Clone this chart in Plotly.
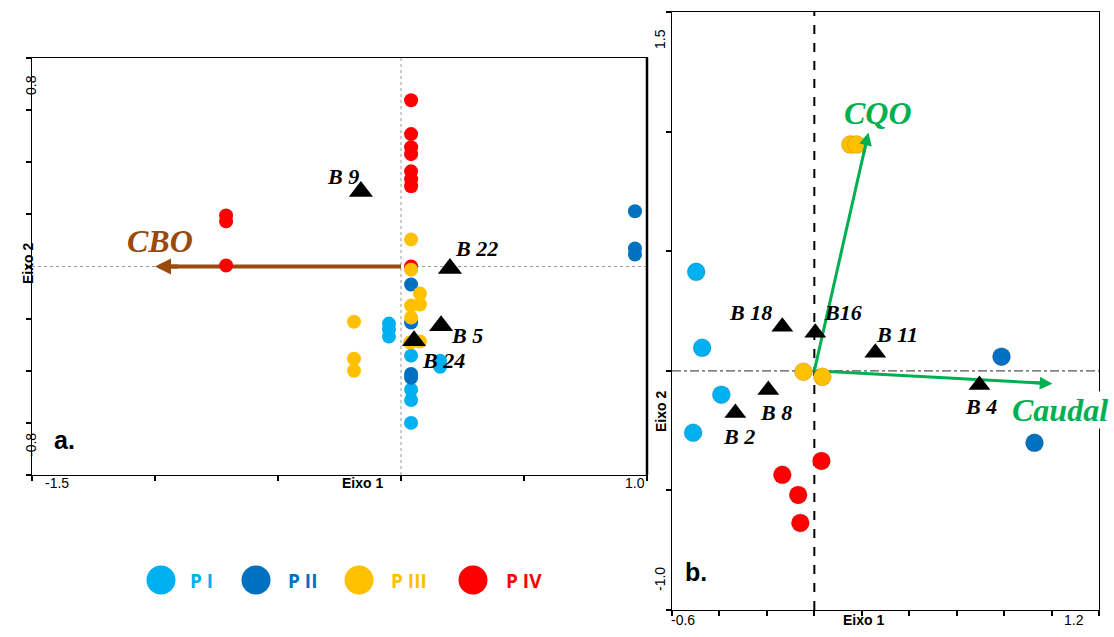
import plotly.graph_objects as go

# ---------------- DATA ----------------
groups = ["P I", "P II", "P III", "P IV"]
group_colors = ["#00B0F0", "#0070C0", "#FFC000", "#FF0000"]

# Panel a. (Eixo 1 / Eixo 2)
a_PI_x = [-0.049, -0.049, -0.049, 0.041, 0.159, 0.159, 0.041, 0.041, 0.041]
a_PI_y = [-0.219, -0.242, -0.269, -0.342, -0.362, -0.385, -0.473, -0.512, -0.600]
a_PII_x = [0.951, 0.951, 0.951, 0.041, 0.041, 0.041, 0.041]
a_PII_y = [0.212, 0.069, 0.046, -0.069, -0.215, -0.412, -0.427]
a_PIII_x = [0.041, 0.041, 0.077, 0.077, 0.041, 0.041, 0.077, 0.037, -0.191, -0.191, -0.191]
a_PIII_y = [0.104, -0.012, -0.104, -0.146, -0.150, -0.196, -0.288, -0.292, -0.212, -0.354, -0.400]
a_PIV_x = [0.041, 0.041, 0.041, 0.041, 0.041, 0.041, 0.041, -0.711, -0.711, -0.711, 0.041]
a_PIV_y = [0.638, 0.508, 0.458, 0.431, 0.365, 0.335, 0.308, 0.196, 0.173, 0.004, 0.0]
a_species = ["B 9", "B 22", "B 5", "B 24"]
a_species_x = [-0.163, 0.199, 0.163, 0.053]
a_species_y = [0.288, -0.008, -0.227, -0.285]
a_vector_name = ["CBO"]
a_vector_x = [-1.0]
a_vector_y = [0.0]

# Panel b.
b_PI_x = [-0.498, -0.473, -0.392, -0.511]
b_PI_y = [0.414, 0.096, -0.100, -0.259]
b_PII_x = [0.789, 0.928]
b_PII_y = [0.059, -0.301]
b_PIII_x = [-0.046, 0.034, 0.152, 0.178]
b_PIII_y = [-0.004, -0.025, 0.946, 0.946]
b_PIV_x = [0.030, -0.135, -0.068, -0.059]
b_PIV_y = [-0.377, -0.435, -0.519, -0.636]
b_species = ["B 18", "B16", "B 11", "B 8", "B 2", "B 4"]
b_species_x = [-0.135, 0.004, 0.257, -0.194, -0.333, 0.696]
b_species_y = [0.184, 0.159, 0.075, -0.080, -0.176, -0.059]
b_vector_name = ["CQO", "Caudal"]
b_vector_x = [0.228, 1.004]
b_vector_y = [0.996, -0.054]

# ---------------- STYLE ----------------
W, H = 1114, 637
brown = "#994A0C"
green = "#00B050"
serif = "Liberation Serif"
sans = "Liberation Sans"

def px2fx(px):
    return px / W

def px2fy(py):
    return 1 - py / H

fig = go.Figure()

shapes = [
    dict(type="line", xref="x", yref="y domain", x0=0, x1=0, y0=0, y1=1,
         line=dict(color="#999999", width=1, dash="dot"), layer="below"),
    dict(type="line", xref="x domain", yref="y", x0=0, x1=1, y0=0, y1=0,
         line=dict(color="#999999", width=1, dash="dot"), layer="below"),
    dict(type="line", xref="x2", yref="y2 domain", x0=0, x1=0, y0=0, y1=1,
         line=dict(color="black", width=2, dash="dash"), layer="below"),
    dict(type="line", xref="x2 domain", yref="y2", x0=0, x1=1, y0=0, y1=0,
         line=dict(color="#555555", width=1.2, dash="dashdot"), layer="below"),
    dict(type="line", xref="x domain", yref="y domain", x0=1, x1=1, y0=0, y1=1,
         line=dict(color="black", width=2.5)),
]

annotations = []

# Panel a vector (CBO): shaft as trace, head as annotation
fig.add_trace(go.Scatter(
    x=[0, a_vector_x[0] * 0.97], y=[0, a_vector_y[0] * 0.97], xaxis="x", yaxis="y",
    mode="lines", line=dict(color=brown, width=4),
    showlegend=False, hoverinfo="skip"))
annotations.append(dict(x=a_vector_x[0], y=a_vector_y[0], ax=a_vector_x[0] * 0.9, ay=a_vector_y[0] * 0.9,
                        xref="x", yref="y", axref="x", ayref="y", text="", showarrow=True,
                        arrowhead=2, arrowsize=0.8, arrowwidth=4, arrowcolor=brown,
                        standoff=0, startstandoff=0))

a_sets = [(a_PIV_x, a_PIV_y, 3), (a_PI_x, a_PI_y, 0), (a_PII_x, a_PII_y, 1), (a_PIII_x, a_PIII_y, 2)]
for xs, ys, gi in a_sets:
    fig.add_trace(go.Scatter(x=xs, y=ys, xaxis="x", yaxis="y", mode="markers",
                             marker=dict(size=14, color=group_colors[gi]),
                             name=groups[gi], showlegend=False))

fig.add_trace(go.Scatter(x=a_species_x, y=a_species_y, xaxis="x", yaxis="y",
                         mode="markers", marker=dict(symbol="triangle-up", size=21, color="black"),
                         showlegend=False))

# Panel b vectors
for vx, vy in zip(b_vector_x, b_vector_y):
    fig.add_trace(go.Scatter(
        x=[0, vx * 0.97], y=[0, vy * 0.97], xaxis="x2", yaxis="y2",
        mode="lines", line=dict(color=green, width=3),
        showlegend=False, hoverinfo="skip"))
    annotations.append(dict(x=vx, y=vy, ax=vx * 0.9, ay=vy * 0.9,
                            xref="x2", yref="y2", axref="x2", ayref="y2", text="", showarrow=True,
                            arrowhead=2, arrowsize=0.85, arrowwidth=3, arrowcolor=green,
                            standoff=0, startstandoff=0))

b_sets = [(b_PI_x, b_PI_y, 0), (b_PII_x, b_PII_y, 1), (b_PIII_x, b_PIII_y, 2), (b_PIV_x, b_PIV_y, 3)]
for xs, ys, gi in b_sets:
    fig.add_trace(go.Scatter(x=xs, y=ys, xaxis="x2", yaxis="y2", mode="markers",
                             marker=dict(size=18, color=group_colors[gi],
                                         line=dict(color="rgba(0,0,0,0.25)", width=0.6)),
                             name=groups[gi], showlegend=False))

fig.add_trace(go.Scatter(x=b_species_x, y=b_species_y, xaxis="x2", yaxis="y2",
                         mode="markers", marker=dict(symbol="triangle-up", size=19, color="black"),
                         showlegend=False))

sp_font = dict(family=serif, size=22, color="black")
a_offsets = [(-18, 15), (27, 20), (26, -10), (29, -20)]
for name, x, y, (dx, dy) in zip(a_species, a_species_x, a_species_y, a_offsets):
    annotations.append(dict(x=x, y=y, xref="x", yref="y", text="<b><i>%s</i></b>" % name,
                            showarrow=False, xshift=dx, yshift=dy, font=sp_font))
b_offsets = [(-32, 14), (28, 20), (22, 18), (8, -23), (4, -24), (2, -22)]
for name, x, y, (dx, dy) in zip(b_species, b_species_x, b_species_y, b_offsets):
    annotations.append(dict(x=x, y=y, xref="x2", yref="y2", text="<b><i>%s</i></b>" % name,
                            showarrow=False, xshift=dx, yshift=dy, font=sp_font))

annotations.append(dict(x=a_vector_x[0], y=a_vector_y[0], xref="x", yref="y",
                        text="<b><i>%s</i></b>" % a_vector_name[0], showarrow=False,
                        xshift=5, yshift=26, font=dict(family=serif, size=32, color=brown)))
annotations.append(dict(x=b_vector_x[0], y=b_vector_y[0], xref="x2", yref="y2",
                        text="<b><i>%s</i></b>" % b_vector_name[0], showarrow=False,
                        xshift=10, yshift=20, font=dict(family=serif, size=32, color=green)))
annotations.append(dict(x=b_vector_x[1], y=b_vector_y[1], xref="x2", yref="y2",
                        text="<b><i>%s</i></b>" % b_vector_name[1], showarrow=False,
                        xshift=7, yshift=-26, bgcolor="white", borderpad=0,
                        font=dict(family=serif, size=32, color=green)))

annotations.append(dict(x=px2fx(52), y=px2fy(456), xref="paper", yref="paper", text="<b>a.</b>",
                        showarrow=False, font=dict(family=sans, size=25, color="black")))
annotations.append(dict(x=px2fx(696), y=px2fy(588), xref="paper", yref="paper", text="<b>b.</b>",
                        showarrow=False, font=dict(family=sans, size=25, color="black")))

tick_font = dict(family=sans, size=14, color="black")
lab_font = dict(family=sans, size=14, color="black")
annotations += [
    dict(x=px2fx(43), y=px2fy(493), xref="paper", yref="paper", text="-1.5", showarrow=False, font=tick_font),
    dict(x=px2fx(635), y=px2fy(493), xref="paper", yref="paper", text="1.0", showarrow=False, font=tick_font),
    dict(x=px2fx(340), y=px2fy(493), xref="paper", yref="paper", text="<b>Eixo 1</b>", showarrow=False, font=lab_font),
    dict(x=px2fx(21), y=px2fy(73), xref="paper", yref="paper", text="0.8", textangle=-90, showarrow=False, font=tick_font),
    dict(x=px2fx(21), y=px2fy(459), xref="paper", yref="paper", text="-0.8", textangle=-90, showarrow=False, font=tick_font),
    dict(x=px2fx(18), y=px2fy(264), xref="paper", yref="paper", text="<b>Eixo 2</b>", textangle=-90, showarrow=False, font=lab_font),
    dict(x=px2fx(683), y=px2fy(630), xref="paper", yref="paper", text="-0.6", showarrow=False, font=tick_font),
    dict(x=px2fx(1086), y=px2fy(630), xref="paper", yref="paper", text="1.2", showarrow=False, font=tick_font),
    dict(x=px2fx(886), y=px2fy(630), xref="paper", yref="paper", text="<b>Eixo 1</b>", showarrow=False, font=lab_font),
    dict(x=px2fx(660), y=px2fy(27), xref="paper", yref="paper", text="1.5", textangle=-90, showarrow=False, font=tick_font),
    dict(x=px2fx(660), y=px2fy(593), xref="paper", yref="paper", text="-1.0", textangle=-90, showarrow=False, font=tick_font),
    dict(x=px2fx(661), y=px2fy(412), xref="paper", yref="paper", text="<b>Eixo 2</b>", textangle=-90, showarrow=False, font=lab_font),
]

leg_cx = [161, 256, 359, 473]
leg_tx = [188, 286, 389, 504]
for gi in range(4):
    cx, cy, r = leg_cx[gi], 580, 14.5
    shapes.append(dict(type="circle", xref="paper", yref="paper",
                       x0=px2fx(cx - r), x1=px2fx(cx + r), y0=px2fy(cy + r), y1=px2fy(cy - r),
                       fillcolor=group_colors[gi], line=dict(width=0)))
    annotations.append(dict(x=px2fx(leg_tx[gi]), y=px2fy(581), xref="paper", yref="paper",
                            xanchor="left", yanchor="middle",
                            text="<b>%s</b>" % groups[gi].replace(" ", "&nbsp;"),
                            showarrow=False, font=dict(family="Open Sans", size=19, color=group_colors[gi])))

axis_common = dict(showgrid=False, zeroline=False, showline=True, linecolor="black",
                   linewidth=1.3, mirror=True, ticks="outside", ticklen=5, tickwidth=1.5,
                   tickcolor="black", showticklabels=False)

fig.update_layout(
    width=W, height=H, margin=dict(l=0, r=0, t=0, b=0),
    paper_bgcolor="white", plot_bgcolor="white",
    xaxis=dict(domain=[px2fx(32), px2fx(647)], range=[-1.5, 1.0], anchor="y",
               tickvals=[-1.5, -1.0, -0.5, 0, 0.5, 1.0], **axis_common),
    yaxis=dict(domain=[px2fy(475), px2fy(58)], range=[-0.8, 0.8], anchor="x",
               tickvals=[-0.8, -0.6, -0.4, -0.2, 0, 0.2, 0.4, 0.6, 0.8], **axis_common),
    xaxis2=dict(domain=[px2fx(672), px2fx(1099)], range=[-0.6, 1.2], anchor="y2",
                tickvals=[-0.6, -0.4, -0.2, 0, 0.2, 0.4, 0.6, 0.8, 1.0, 1.2], **axis_common),
    yaxis2=dict(domain=[px2fy(610), px2fy(12)], range=[-1.0, 1.5], anchor="x2",
                tickvals=[-1.0, -0.5, 0, 0.5, 1.0, 1.5], **axis_common),
    shapes=shapes, annotations=annotations, showlegend=False,
)

fig.write_html("out.html")
